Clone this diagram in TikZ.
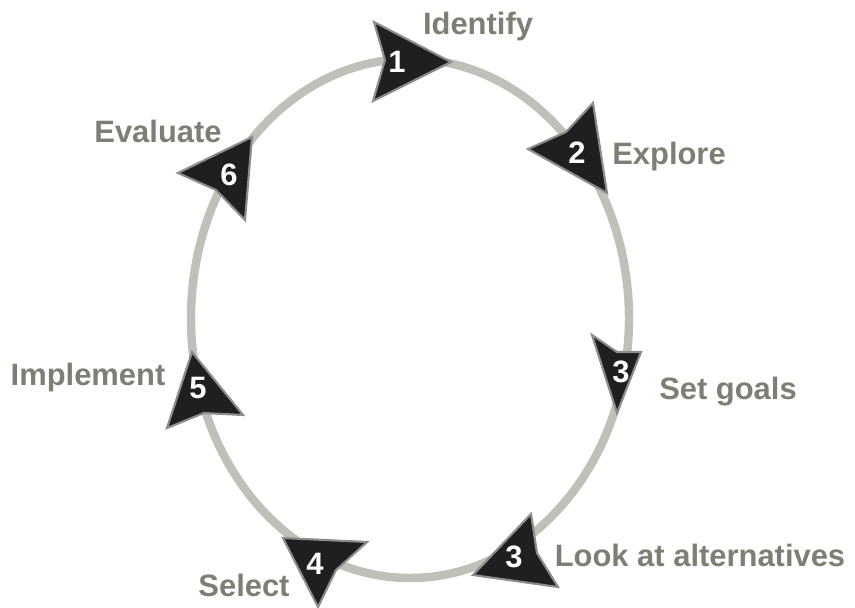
\documentclass[tikz,border=0pt]{standalone}
\usepackage{fontspec}
\setmainfont{Liberation Sans}
\begin{document}
\begin{tikzpicture}[x=0.02cm, y=-0.02cm]
    % Define colors
    \definecolor{ring}{RGB}{192,192,184}
    \definecolor{label}{RGB}{127,126,116}
    \definecolor{marker}{RGB}{33,30,31}
    \definecolor{rim}{RGB}{140,140,140}

    % Define styles
    \tikzstyle{arrowhead} = [fill=marker, draw=rim, line width=1.2pt, line join=miter]
    \tikzstyle{num} = [text=white, font=\fontsize{17.6}{20}\selectfont\bfseries, inner sep=0pt]
    \tikzstyle{stage} = [text=label, font=\fontsize{17.6}{20}\selectfont\bfseries, inner sep=0pt]

    % Canvas
    \useasboundingbox (0,0) rectangle (855,608);

    % Cycle
    \draw[ring, line width=4.8pt] (410,318.5) ellipse (219 and 259.5);

    % Arrow heads
    \filldraw[arrowhead] (451,62) -- (374,22) -- (385,60) -- (373,101) -- cycle;
    \filldraw[arrowhead] (607,193) -- (593,103) -- (566,132) -- (528,149) -- cycle;
    \filldraw[arrowhead] (617,413) -- (592,335) -- (617,352) -- (641,352) -- cycle;
    \filldraw[arrowhead] (473,575) -- (531,514) -- (537,553) -- (558,587) -- cycle;
    \filldraw[arrowhead] (283,538) -- (367,542) -- (336,570) -- (318,607) -- cycle;
    \filldraw[arrowhead] (192,352) -- (167,428) -- (204,413) -- (243,415) -- cycle;
    \filldraw[arrowhead] (252,137) -- (178,173) -- (216,190) -- (245,220) -- cycle;

    % Numbers
    \node[num] (n1) at (397,62) {1};
    \node[num] (n2) at (577,153) {2};
    \node[num] (n3) at (621,372) {3};
    \node[num] (n3b) at (514,557) {3};
    \node[num] (n4) at (315,564) {4};
    \node[num] (n5) at (198,388) {5};
    \node[num] (n6) at (229,175) {6};

    % Labels
    \node[stage] (identify) at (478,27) {Identify};
    \node[stage] (explore) at (669,157) {Explore};
    \node[stage] (goals) at (728,392) {Set goals};
    \node[stage] (alternatives) at (700,555) {Look at alternatives};
    \node[stage] (select) at (244,585) {Select};
    \node[stage] (implement) at (88,378) {Implement};
    \node[stage] (evaluate) at (158,131) {Evaluate};
\end{tikzpicture}
\end{document}
